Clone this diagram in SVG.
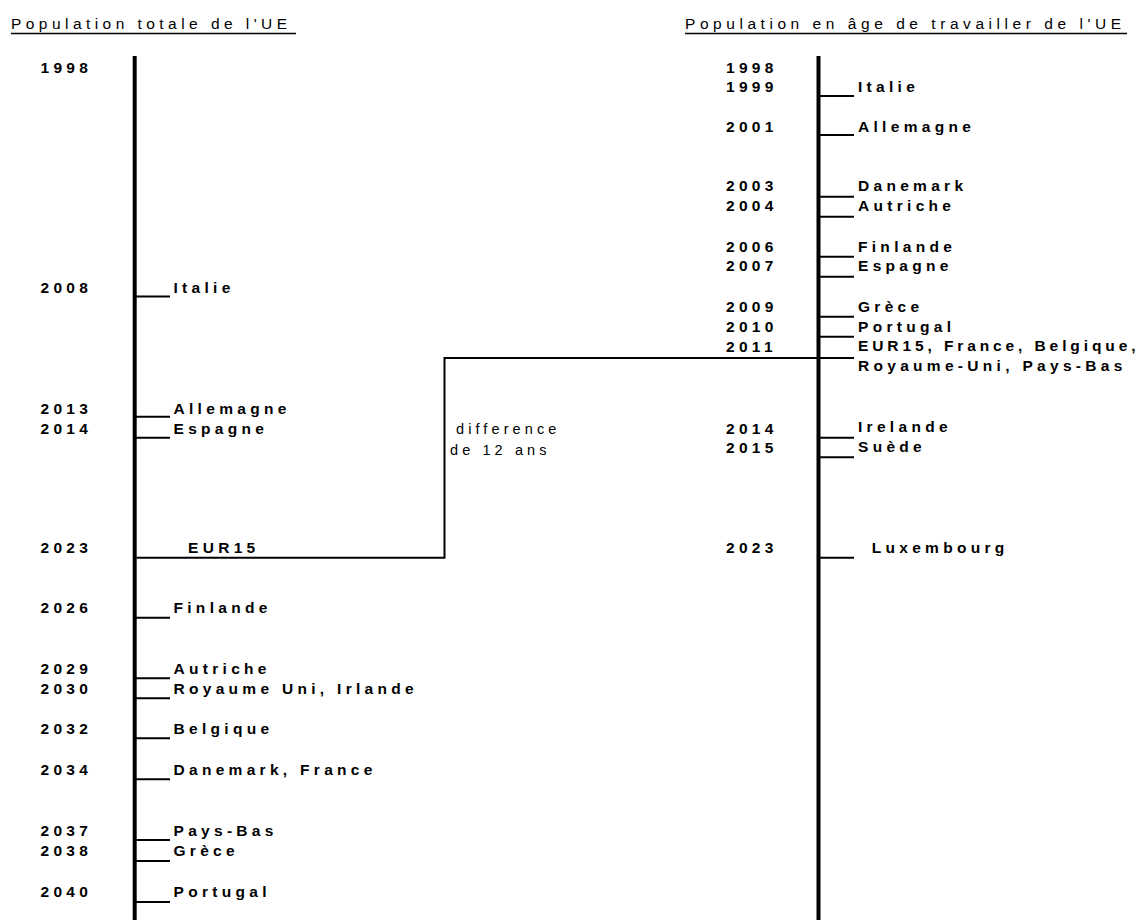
<svg xmlns="http://www.w3.org/2000/svg" width="1143" height="920" viewBox="0 0 1143 920">
<style>
text{font-family:"Liberation Sans",Arial,sans-serif;fill:#000}
.h{font-size:15.5px;letter-spacing:4.45px}
.hr{font-size:15.5px;letter-spacing:4.55px}
.b{font-size:15.5px;font-weight:bold;letter-spacing:4.3px}
.r{font-size:14.5px;letter-spacing:4.1px}
.ax{stroke:#000;stroke-width:4;fill:none}
.tk{stroke:#000;stroke-width:2;fill:none}
.ul{stroke:#000;stroke-width:1.5;fill:none}
.cn{stroke:#000;stroke-width:2;fill:none}
</style>
<rect width="1143" height="920" fill="#fff"/>
<g id="header-left">
<text class="h" x="11" y="29.3">Population totale de l'UE</text>
<line class="ul" x1="11" y1="33.5" x2="296" y2="33.5"/>
</g>
<g id="header-right">
<text class="hr" x="685" y="29.3">Population en âge de travailler de l'UE</text>
<line class="ul" x1="685" y1="33.5" x2="1127" y2="33.5"/>
</g>
<g id="axis-left"><line class="ax" x1="134.7" y1="56" x2="134.7" y2="920"/></g>
<g id="axis-right"><line class="ax" x1="818.5" y1="56" x2="818.5" y2="920"/></g>

<g id="left-1998"><text class="b" x="40.5" y="73">1998</text></g>
<g id="left-2008"><text class="b" x="40.5" y="292.7">2008</text><line class="tk" x1="136" y1="296.5" x2="170" y2="296.5"/><text class="b" x="173.5" y="292.7">Italie</text></g>
<g id="left-2013"><text class="b" x="40.5" y="414">2013</text><line class="tk" x1="136" y1="416.7" x2="170" y2="416.7"/><text class="b" x="173.5" y="414">Allemagne</text></g>
<g id="left-2014"><text class="b" x="40.5" y="434">2014</text><line class="tk" x1="136" y1="437.7" x2="170" y2="437.7"/><text class="b" x="173.5" y="434">Espagne</text></g>
<g id="left-2023"><text class="b" x="40.5" y="553">2023</text><text class="b" x="188" y="553">EUR15</text></g>
<g id="left-2026"><text class="b" x="40.5" y="613.3">2026</text><line class="tk" x1="136" y1="617.7" x2="170" y2="617.7"/><text class="b" x="173.5" y="613.3">Finlande</text></g>
<g id="left-2029"><text class="b" x="40.5" y="674.3">2029</text><line class="tk" x1="136" y1="678.3" x2="170" y2="678.3"/><text class="b" x="173.5" y="674.3">Autriche</text></g>
<g id="left-2030"><text class="b" x="40.5" y="694.3">2030</text><line class="tk" x1="136" y1="698.3" x2="170" y2="698.3"/><text class="b" x="173.5" y="694.3">Royaume Uni, Irlande</text></g>
<g id="left-2032"><text class="b" x="40.5" y="734.3">2032</text><line class="tk" x1="136" y1="738.3" x2="170" y2="738.3"/><text class="b" x="173.5" y="734.3">Belgique</text></g>
<g id="left-2034"><text class="b" x="40.5" y="775">2034</text><line class="tk" x1="136" y1="779.3" x2="170" y2="779.3"/><text class="b" x="173.5" y="775">Danemark, France</text></g>
<g id="left-2037"><text class="b" x="40.5" y="836">2037</text><line class="tk" x1="136" y1="840" x2="170" y2="840"/><text class="b" x="173.5" y="836">Pays-Bas</text></g>
<g id="left-2038"><text class="b" x="40.5" y="856">2038</text><line class="tk" x1="136" y1="861" x2="170" y2="861"/><text class="b" x="173.5" y="856">Grèce</text></g>
<g id="left-2040"><text class="b" x="40.5" y="896.7">2040</text><line class="tk" x1="136" y1="902" x2="170" y2="902"/><text class="b" x="173.5" y="896.7">Portugal</text></g>

<g id="right-1998"><text class="b" x="726" y="73">1998</text></g>
<g id="right-1999"><text class="b" x="726" y="92">1999</text><line class="tk" x1="820" y1="96" x2="854" y2="96"/><text class="b" x="858" y="91.7">Italie</text></g>
<g id="right-2001"><text class="b" x="726" y="131.7">2001</text><line class="tk" x1="820" y1="135" x2="854" y2="135"/><text class="b" x="858" y="131.7">Allemagne</text></g>
<g id="right-2003"><text class="b" x="726" y="191">2003</text><line class="tk" x1="820" y1="196.7" x2="854" y2="196.7"/><text class="b" x="858" y="191">Danemark</text></g>
<g id="right-2004"><text class="b" x="726" y="211">2004</text><line class="tk" x1="820" y1="216.7" x2="854" y2="216.7"/><text class="b" x="858" y="211">Autriche</text></g>
<g id="right-2006"><text class="b" x="726" y="251.7">2006</text><line class="tk" x1="820" y1="256.7" x2="854" y2="256.7"/><text class="b" x="858" y="251.7">Finlande</text></g>
<g id="right-2007"><text class="b" x="726" y="271">2007</text><line class="tk" x1="820" y1="276.7" x2="854" y2="276.7"/><text class="b" x="858" y="271">Espagne</text></g>
<g id="right-2009"><text class="b" x="726" y="311.7">2009</text><line class="tk" x1="820" y1="316.7" x2="854" y2="316.7"/><text class="b" x="858" y="311.7">Grèce</text></g>
<g id="right-2010"><text class="b" x="726" y="331.7">2010</text><line class="tk" x1="820" y1="336.7" x2="854" y2="336.7"/><text class="b" x="858" y="331.7">Portugal</text></g>
<g id="right-2011"><text class="b" x="726" y="351.7">2011</text><text class="b" x="858" y="350.7" style="letter-spacing:3.9px">EUR15, France, Belgique,</text><text class="b" x="858" y="370.7">Royaume-Uni, Pays-Bas</text></g>
<g id="right-2014"><text class="b" x="726" y="434">2014</text><line class="tk" x1="820" y1="437.7" x2="854" y2="437.7"/><text class="b" x="858" y="432.3">Irelande</text></g>
<g id="right-2015"><text class="b" x="726" y="453.3">2015</text><line class="tk" x1="820" y1="457.3" x2="854" y2="457.3"/><text class="b" x="858" y="451.7">Suède</text></g>
<g id="right-2023"><text class="b" x="726" y="553">2023</text><line class="tk" x1="820" y1="557.7" x2="854" y2="557.7"/><text class="b" x="871.7" y="553">Luxembourg</text></g>

<g id="difference-label">
<text class="r" x="456" y="434.3">difference</text>
<text class="r" x="450" y="455">de 12 ans</text>
</g>
<g id="connectors">
<path class="cn" d="M136.5 557.7 H444.5 V358 H854"/>
</g>
</svg>
